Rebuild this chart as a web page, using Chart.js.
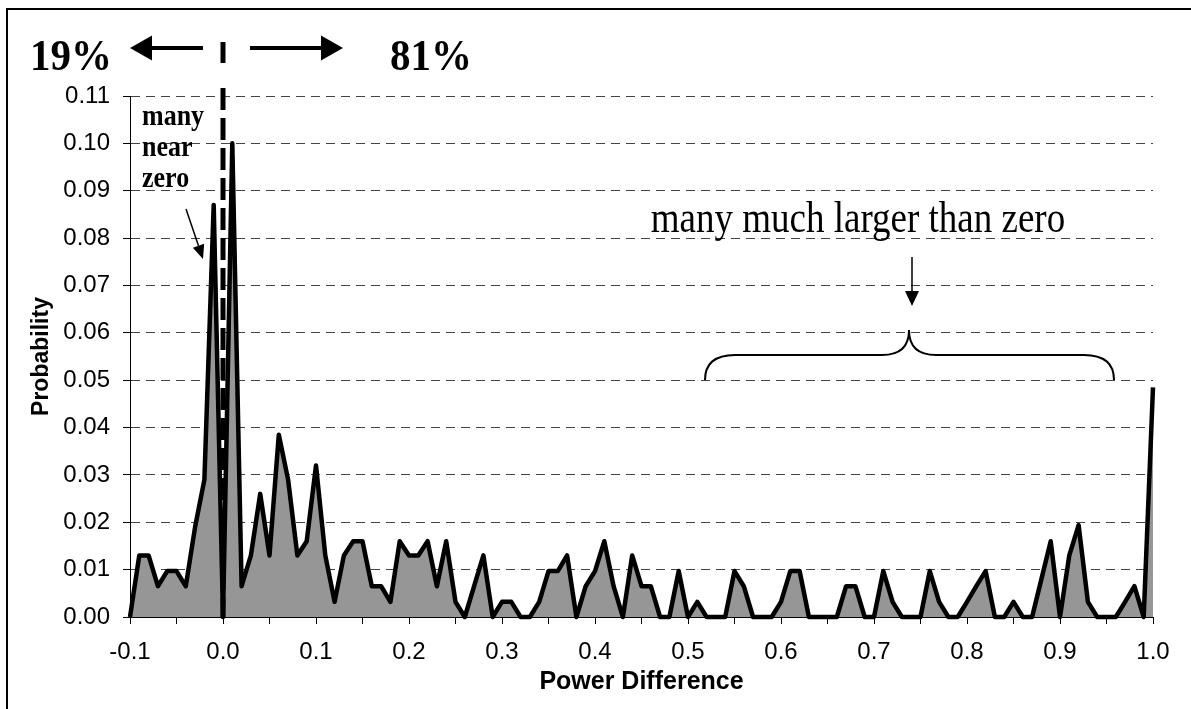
<!DOCTYPE html>
<html>
<head>
<meta charset="utf-8">
<title>Power Difference</title>
<script src="https://cdn.jsdelivr.net/npm/chart.js@4.4.1/dist/chart.umd.min.js"></script>
<style>
  body { margin: 0; background: #fff; }
  canvas { display: block; }
</style>
</head>
<body>
<canvas id="probChart" width="1191" height="709"></canvas>
<script>
// x categories
const powerDiff = [
  -0.10, -0.09, -0.08, -0.07, -0.06, -0.05, -0.04, -0.03, -0.02, -0.01,
  0.00, 0.01, 0.02, 0.03, 0.04, 0.05, 0.06, 0.07, 0.08, 0.09,
  0.10, 0.11, 0.12, 0.13, 0.14, 0.15, 0.16, 0.17, 0.18, 0.19,
  0.20, 0.21, 0.22, 0.23, 0.24, 0.25, 0.26, 0.27, 0.28, 0.29,
  0.30, 0.31, 0.32, 0.33, 0.34, 0.35, 0.36, 0.37, 0.38, 0.39,
  0.40, 0.41, 0.42, 0.43, 0.44, 0.45, 0.46, 0.47, 0.48, 0.49,
  0.50, 0.51, 0.52, 0.53, 0.54, 0.55, 0.56, 0.57, 0.58, 0.59,
  0.60, 0.61, 0.62, 0.63, 0.64, 0.65, 0.66, 0.67, 0.68, 0.69,
  0.70, 0.71, 0.72, 0.73, 0.74, 0.75, 0.76, 0.77, 0.78, 0.79,
  0.80, 0.81, 0.82, 0.83, 0.84, 0.85, 0.86, 0.87, 0.88, 0.89,
  0.90, 0.91, 0.92, 0.93, 0.94, 0.95, 0.96, 0.97, 0.98, 0.99,
  1.00
];

// probability per category
const probability = [
  0, 0.013, 0.013, 0.0065, 0.0097, 0.0097, 0.0065, 0.019, 0.029, 0.087,
  0, 0.100, 0.0065, 0.013, 0.026, 0.013, 0.0385, 0.029, 0.013, 0.016,
  0.032, 0.013, 0.0032, 0.013, 0.016, 0.016, 0.0065, 0.0065, 0.0032, 0.016,
  0.013, 0.013, 0.016, 0.0065, 0.016, 0.0032, 0, 0.0065, 0.013, 0,
  0.0032, 0.0032, 0, 0, 0.0032, 0.0097, 0.0097, 0.013, 0, 0.0065,
  0.0097, 0.016, 0.0065, 0, 0.013, 0.0065, 0.0065, 0, 0, 0.0097,
  0, 0.0032, 0, 0, 0, 0.0097, 0.0065, 0, 0, 0,
  0.0032, 0.0097, 0.0097, 0, 0, 0, 0, 0.0065, 0.0065, 0,
  0, 0.0097, 0.0032, 0, 0, 0, 0.0097, 0.0032, 0, 0,
  0.0032, 0.0065, 0.0097, 0, 0, 0.0032, 0, 0, 0.008, 0.016,
  0, 0.013, 0.0194, 0.0032, 0, 0, 0, 0.0032, 0.0065, 0,
  0.0485
];

// annotation texts
const leftShare = '19%';
const rightShare = '81%';
const nearZeroNote = ['many', 'near', 'zero'];
const farNote = 'many much larger than zero';

const serif = '"Liberation Serif", "Times New Roman", serif';
const sans = '"Liberation Sans", Arial, sans-serif';

//text squeezed a bit taller, like the original picture
const drawText = (ctx, txt, x, y, font, sy, align) => {
    ctx.save();
    ctx.translate(x, y);
    ctx.scale(1, sy);
    ctx.font = font;
    ctx.textAlign = align || 'left';
    ctx.textBaseline = 'alphabetic';
    ctx.fillStyle = '#000';
    ctx.fillText(txt, 0, 0);
    ctx.restore();
};

const drawArrow = (ctx, x1, y1, x2, y2, w, headLen, headHalf) => {
    const a = Math.atan2(y2 - y1, x2 - x1);
    const bx = x2 - headLen * Math.cos(a);
    const by = y2 - headLen * Math.sin(a);
    ctx.lineWidth = w;
    ctx.beginPath();
    ctx.moveTo(x1, y1);
    ctx.lineTo(bx, by);
    ctx.stroke();
    ctx.beginPath();
    ctx.moveTo(x2, y2);
    ctx.lineTo(bx + headHalf * Math.sin(a), by - headHalf * Math.cos(a));
    ctx.lineTo(bx - headHalf * Math.sin(a), by + headHalf * Math.cos(a));
    ctx.closePath();
    ctx.fill();
};

const annotations = {
    id: 'annotations',
    afterDraw(chart) {
        const ctx = chart.ctx;
        const xs = chart.scales.x;
        const ys = chart.scales.y;
        ctx.save();
        ctx.strokeStyle = '#000';
        ctx.fillStyle = '#000';

        // frame
        ctx.lineWidth = 2;
        ctx.strokeRect(7, 9, 1200, 720);

        // dashed split line at zero
        const x0 = xs.getPixelForValue(powerDiff.indexOf(0));
        ctx.lineWidth = 5;
        ctx.beginPath();
        ctx.moveTo(x0, 42);
        ctx.lineTo(x0, 63);
        ctx.stroke();
        ctx.setLineDash([22, 8]);
        ctx.beginPath();
        ctx.moveTo(x0, 88);
        ctx.lineTo(x0, ys.bottom);
        ctx.stroke();
        ctx.setLineDash([]);

        // 19% <-  -> 81%
        drawText(ctx, leftShare, 30, 70, 'bold 41px ' + serif, 1.07);
        drawText(ctx, rightShare, 390, 70, 'bold 41px ' + serif, 1.07);
        drawArrow(ctx, 203, 48, 130, 48, 4, 22, 12.5);
        drawArrow(ctx, 250, 48, 343, 48, 4, 22, 12.5);

        // many near zero
        const base = [125, 156, 187];
        nearZeroNote.forEach((t, i) => drawText(ctx, t, 142, base[i], 'bold 26px ' + serif, 1.12));
        drawArrow(ctx, 186, 209, 203, 259, 1.5, 14, 6);

        // many much larger than zero + brace
        drawText(ctx, farNote, 858, 232, '37px ' + serif, 1.18, 'center');
        drawArrow(ctx, 912, 257, 912, 306, 1.5, 15, 7);
        ctx.lineWidth = 2;
        ctx.beginPath();
        ctx.moveTo(705, 380);
        ctx.quadraticCurveTo(705, 355, 735, 355);
        ctx.lineTo(882, 355);
        ctx.quadraticCurveTo(909, 355, 909, 330);
        ctx.quadraticCurveTo(909, 355, 936, 355);
        ctx.lineTo(1084, 355);
        ctx.quadraticCurveTo(1114, 355, 1114, 380);
        ctx.stroke();

        ctx.restore();
    }
};

const probChartMaster = () => {
    var ctx = document.getElementById('probChart').getContext('2d');
    var chart = new Chart(ctx, {
        type: 'line',
        data: {
            labels: powerDiff,
            datasets: [{
                data: probability,
                borderColor: '#000',
                borderWidth: 4.5,
                backgroundColor: '#969696',
                fill: 'origin',
                pointRadius: 0,
                tension: 0,
                borderJoinStyle: 'round',
                clip: 4
            }]
        },
        options: {
            responsive: false,
            animation: false,
            layout: {
                padding: { left: 0, right: 38, top: 96, bottom: 0 }
            },
            plugins: {
                legend: { display: false },
                tooltip: { enabled: false }
            },
            scales: {
                x: {
                    type: 'category',
                    offset: false,
                    afterFit: s => { s.height = 92; },
                    grid: {
                        drawOnChartArea: false,
                        tickLength: 7,
                        color: '#000',
                        tickColor: c => (c.index % 5 === 0 ? '#000' : 'rgba(0,0,0,0)')
                    },
                    border: { display: true, color: '#000', width: 1 },
                    ticks: {
                        autoSkip: false,
                        maxRotation: 0,
                        minRotation: 0,
                        padding: 14,
                        color: '#000',
                        font: { family: sans, size: 24 },
                        callback: (v, i) => (i % 10 === 0 ? powerDiff[i].toFixed(1) : '')
                    },
                    title: {
                        display: true,
                        text: 'Power Difference',
                        color: '#000',
                        font: { family: sans, size: 25, weight: 'bold' },
                        padding: { top: 0, bottom: 12 }
                    }
                },
                y: {
                    min: 0,
                    max: 0.11,
                    afterFit: s => { s.width = 130; },
                    grid: { color: '#444', lineWidth: 1, tickLength: 7, tickColor: '#000' },
                    border: { display: true, color: '#000', width: 1, dash: [9, 6] },
                    ticks: {
                        stepSize: 0.01,
                        padding: 13,
                        color: '#000',
                        font: { family: sans, size: 24 },
                        callback: v => v.toFixed(2)
                    },
                    title: {
                        display: true,
                        text: 'Probability',
                        color: '#000',
                        font: { family: sans, size: 23, weight: 'bold' },
                        padding: { top: 28, bottom: 0 }
                    }
                }
            }
        },
        plugins: [annotations]
    });
};

probChartMaster()
</script>
</body>
</html>
